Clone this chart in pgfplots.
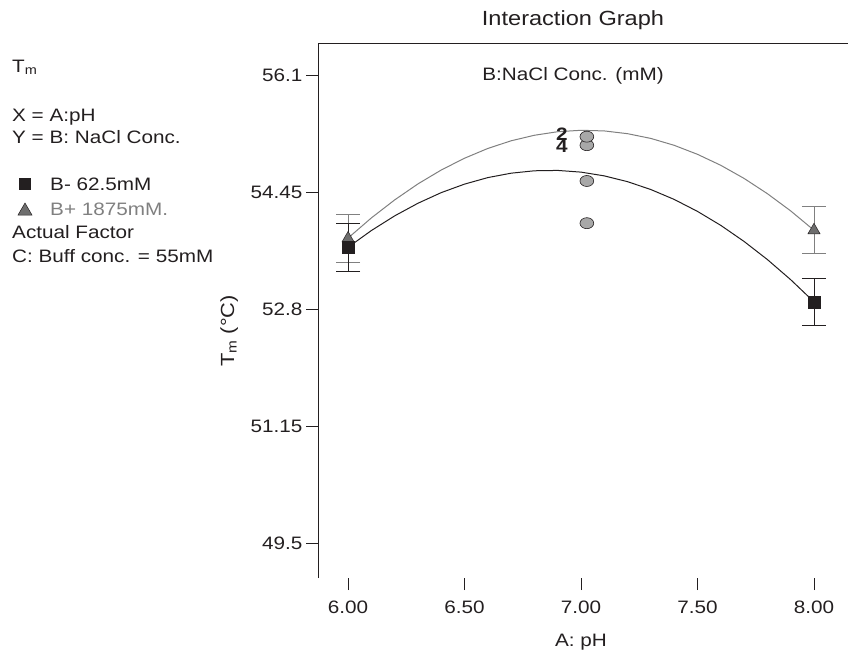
\documentclass[border=0pt]{standalone}
\usepackage{fontspec}
\setmainfont{Liberation Sans}[FakeStretch=1.15]
\usepackage{pgfplots}
\pgfplotsset{compat=1.18}
\definecolor{txt}{HTML}{231F20}
\definecolor{grayline}{HTML}{808080}
\definecolor{trifill}{HTML}{6E6E6E}
\definecolor{circfill}{HTML}{A8A8A8}
\newcommand{\fs}{\fontsize{18}{21}\selectfont}
\begin{document}
\begin{tikzpicture}
\useasboundingbox (0pt,0pt) rectangle (848pt,-656pt);
\begin{axis}[
  at={(318pt,-43pt)}, anchor=north west,
  scale only axis, width=530pt, height=535pt,
  xmin=5.871, xmax=8.146, ymin=49.006, ymax=56.551,
  axis x line*=bottom, axis y line*=left,
  x axis line style={draw=none},
  y axis line style={txt, line width=0.8pt},
  xtick={6,6.5,7,7.5,8}, xticklabels={6.00,6.50,7.00,7.50,8.00},
  ytick={49.5,51.15,52.8,54.45,56.1}, yticklabels={49.5,51.15,52.8,54.45,56.1},
  tick align=outside, major tick length=12pt,
  tick style={txt, line width=0.8pt},
  tick label style={font=\fs, text=txt},
  xticklabel style={yshift=-7pt},
  /pgf/number format/assume math mode=true,
  clip=false,
]
\draw[txt, line width=0.8pt] (rel axis cs:0,1) -- (rel axis cs:1,1);
% B+ curve
\addplot[grayline, line width=1pt] coordinates {
(6.0,53.800) (6.1,54.084) (6.2,54.338) (6.3,54.564) (6.4,54.760) (6.5,54.926)
(6.6,55.064) (6.7,55.172) (6.8,55.250) (6.9,55.300) (7.0,55.320) (7.1,55.311)
(7.2,55.272) (7.3,55.205) (7.4,55.108) (7.5,54.981) (7.6,54.826) (7.7,54.641)
(7.8,54.426) (7.9,54.183) (8.0,53.910)};
% B- curve
\addplot[txt, line width=1pt] coordinates {
(6.0,53.670) (6.1,53.906) (6.2,54.113) (6.3,54.291) (6.4,54.441) (6.5,54.561)
(6.6,54.653) (6.7,54.715) (6.8,54.749) (6.9,54.754) (7.0,54.730) (7.1,54.677)
(7.2,54.595) (7.3,54.484) (7.4,54.345) (7.5,54.176) (7.6,53.979) (7.7,53.752)
(7.8,53.497) (7.9,53.213) (8.0,52.900)};
% B+ points
\addplot[only marks, mark=triangle*, mark size=7pt,
  mark options={fill=trifill, draw=txt, line width=0.5pt},
  error bars/.cd, y dir=both, y explicit,
  error bar style={grayline, line width=0.8pt},
  error mark options={rotate=90, grayline, mark size=12pt, line width=0.8pt}]
  coordinates {(6,53.795) +- (0,0.335) (8,53.91) +- (0,0.33)};
% B- points
\addplot[only marks, mark=square*, mark size=6pt,
  mark options={fill=txt, draw=txt},
  error bars/.cd, y dir=both, y explicit,
  error bar style={txt, line width=0.8pt},
  error mark options={rotate=90, txt, mark size=12pt, line width=0.8pt}]
  coordinates {(6,53.665) +- (0,0.335) (8,52.90) +- (0,0.33)};
% center points
\addplot[only marks, mark=*, mark size=5.5pt,
  mark options={xscale=1.25, fill=circfill, draw=txt, line width=0.6pt}]
  coordinates {(7.025,54.01) (7.025,54.605) (7.025,55.11) (7.025,55.23)};
\node[font=\fontsize{18}{18}\selectfont\bfseries, text=txt, inner sep=0pt] at (axis cs:6.918,55.26) {2};
\node[font=\fontsize{18}{18}\selectfont\bfseries, text=txt, inner sep=0pt] at (axis cs:6.918,55.09) {4};
\end{axis}
\node[anchor=base, font=\fontsize{20.5}{23}\selectfont, text=txt] at (573pt,-25pt) {Interaction Graph};
\node[anchor=base, font=\fs, text=txt] at (573pt,-80pt) {B:NaCl Conc. (mM)};
\node[anchor=base, font=\fs, text=txt] at (581pt,-646pt) {A: pH};
\node[anchor=base, rotate=90, font=\fontsize{19}{21}\selectfont, text=txt] at (234pt,-331pt) {T\textsubscript{m} (°C)};
\begin{scope}[every node/.style={anchor=base west, font=\fs, text=txt, inner sep=0pt}]
\node at (12pt,-72pt) {T\textsubscript{m}};
\node at (12pt,-121.5pt) {X = A:pH};
\node at (12pt,-143pt) {Y = B: NaCl Conc.};
\node at (50pt,-190pt) {B- 62.5mM};
\node[text=grayline] at (50pt,-215pt) {B+ 1875mM.};
\node at (12pt,-238pt) {Actual Factor};
\node at (12pt,-262pt) {C: Buff conc. = 55mM};
\end{scope}
\fill[txt] (19pt,-178pt) rectangle (31pt,-190pt);
\filldraw[fill=trifill, draw=txt, line width=0.5pt] (18pt,-215pt) -- (32pt,-215pt) -- (25pt,-203pt) -- cycle;
\end{tikzpicture}
\end{document}
